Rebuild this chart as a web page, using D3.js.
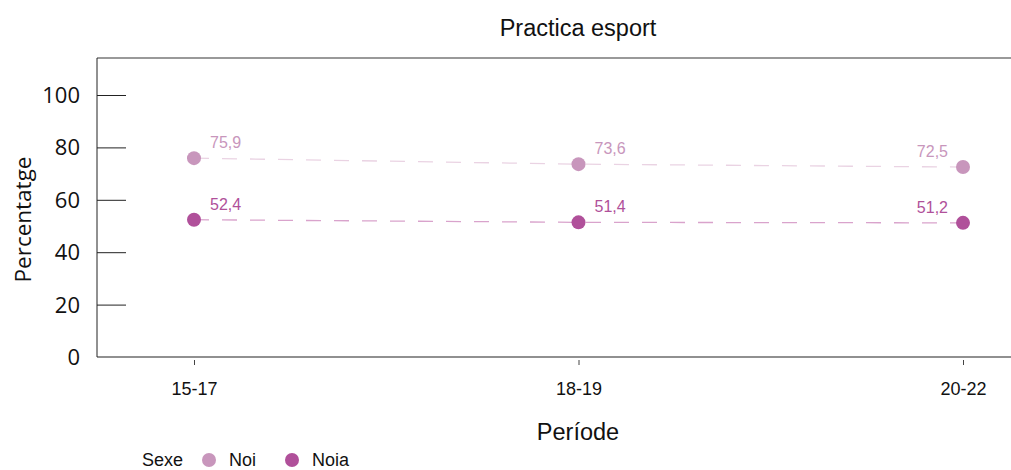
<!DOCTYPE html>
<html>
<head>
<meta charset="utf-8">
<script src="https://cdn.jsdelivr.net/npm/d3@7"></script>
<style>
  body { margin: 0; background: #fff; }
  text { font-family: "Liberation Sans", Arial, sans-serif; }
</style>
</head>
<body>
<svg class="chart"></svg>
<script>
const periods = ["15-17", "18-19", "20-22"];
const noi = [75.9, 73.6, 72.5];
const noia = [52.4, 51.4, 51.2];
const yTicks = [0, 20, 40, 60, 80, 100];

const width = 1011;
const height = 470;
const margin = {top: 58, right: 0, bottom: 113, left: 97};

const svg = d3.select(".chart")
    .attr("width", width)
    .attr("height", height);

const x = d3.scalePoint()
    .domain(periods)
    .range([194, 963]);

const y = d3.scaleLinear()
    .domain([0, 100])
    .range([height - margin.bottom, 95]);

const series = [
    {name: "Noi", values: noi, color: "#c896bc", line: "#ead3e3"},
    {name: "Noia", values: noia, color: "#b0509a", line: "#d9a3cc"}
];

// frame: top line grey, left and bottom black
svg.append("line")
    .attr("x1", margin.left).attr("x2", width)
    .attr("y1", margin.top).attr("y2", margin.top)
    .attr("stroke", "#777").attr("stroke-width", 1.5);
svg.append("line")
    .attr("x1", margin.left).attr("x2", margin.left)
    .attr("y1", margin.top).attr("y2", y(0))
    .attr("stroke", "#222").attr("stroke-width", 1);
svg.append("line")
    .attr("x1", margin.left).attr("x2", width)
    .attr("y1", y(0)).attr("y2", y(0))
    .attr("stroke", "#222").attr("stroke-width", 1.2);

// y axis, ticks pointing into the plot
const yAxis = svg.append("g")
    .attr("transform", `translate(${margin.left},0)`)
    .call(d3.axisRight(y).tickValues(yTicks).tickSize(29).tickFormat(""));
yAxis.select(".domain").remove();
yAxis.selectAll(".tick line").attr("stroke", "#222");
yAxis.selectAll(".tick").filter(d => d === 0).remove();

svg.selectAll(".ylab")
    .data(yTicks)
    .enter().append("text")
    .attr("class", "ylab")
    .attr("x", 80)
    .attr("y", d => y(d))
    .attr("dy", "0.36em")
    .attr("text-anchor", "end")
    .style("font-family", "'Open Sans', sans-serif")
    .style("font-size", "22px")
    .attr("fill", "#111")
    .text(d => d);

// x axis
const xAxis = svg.append("g")
    .attr("transform", `translate(0,${y(0) + 3})`)
    .call(d3.axisBottom(x).tickSize(5).tickPadding(17));
xAxis.select(".domain").remove();
xAxis.selectAll(".tick line").attr("stroke", "#444");
xAxis.selectAll(".tick text")
    .style("font-family", "'Liberation Sans', Arial, sans-serif")
    .style("font-size", "18px")
    .attr("fill", "#111");

// titles
svg.append("text")
    .attr("x", 578).attr("y", 36)
    .attr("text-anchor", "middle")
    .style("font-size", "23.5px")
    .attr("fill", "#111")
    .text("Practica esport");

svg.append("text")
    .attr("x", 578).attr("y", 440)
    .attr("text-anchor", "middle")
    .style("font-size", "23.5px")
    .attr("fill", "#111")
    .text("Període");

svg.append("text")
    .attr("transform", `translate(31,${(margin.top + y(0)) / 2 + 12}) rotate(-90)`)
    .attr("text-anchor", "middle")
    .style("font-family", "'Open Sans', sans-serif")
    .style("font-size", "22.5px")
    .attr("fill", "#111")
    .text("Percentatge");

// lines, points, labels
const line = d3.line()
    .x((d, i) => x(periods[i]))
    .y(d => y(d));

series.forEach(s => {
    svg.append("path")
        .datum(s.values)
        .attr("d", line)
        .attr("fill", "none")
        .attr("stroke", s.line)
        .attr("stroke-width", 1.3)
        .attr("stroke-dasharray", "15,13");

    svg.selectAll(".pt-" + s.name)
        .data(s.values)
        .enter().append("circle")
        .attr("cx", (d, i) => x(periods[i]))
        .attr("cy", d => y(d))
        .attr("r", 7)
        .attr("fill", s.color);

    svg.selectAll(".lab-" + s.name)
        .data(s.values)
        .enter().append("text")
        .attr("x", (d, i) => i === periods.length - 1 ? x(periods[i]) - 15 : x(periods[i]) + 16)
        .attr("y", d => y(d) - 10)
        .attr("text-anchor", (d, i) => i === periods.length - 1 ? "end" : "start")
        .style("font-size", "16px")
        .attr("fill", s.color)
        .text(d => d3.format(".1f")(d).replace(".", ","));
});

// legend
const legend = svg.append("g");
legend.append("text")
    .attr("x", 142).attr("y", 466)
    .style("font-size", "18px")
    .attr("fill", "#111")
    .text("Sexe");
const lx = [209, 292];
series.forEach((s, i) => {
    legend.append("circle")
        .attr("cx", lx[i]).attr("cy", 460)
        .attr("r", 7)
        .attr("fill", s.color);
    legend.append("text")
        .attr("x", lx[i] + 20).attr("y", 466)
        .style("font-size", "18px")
        .attr("fill", "#111")
        .text(s.name);
});
</script>
</body>
</html>
